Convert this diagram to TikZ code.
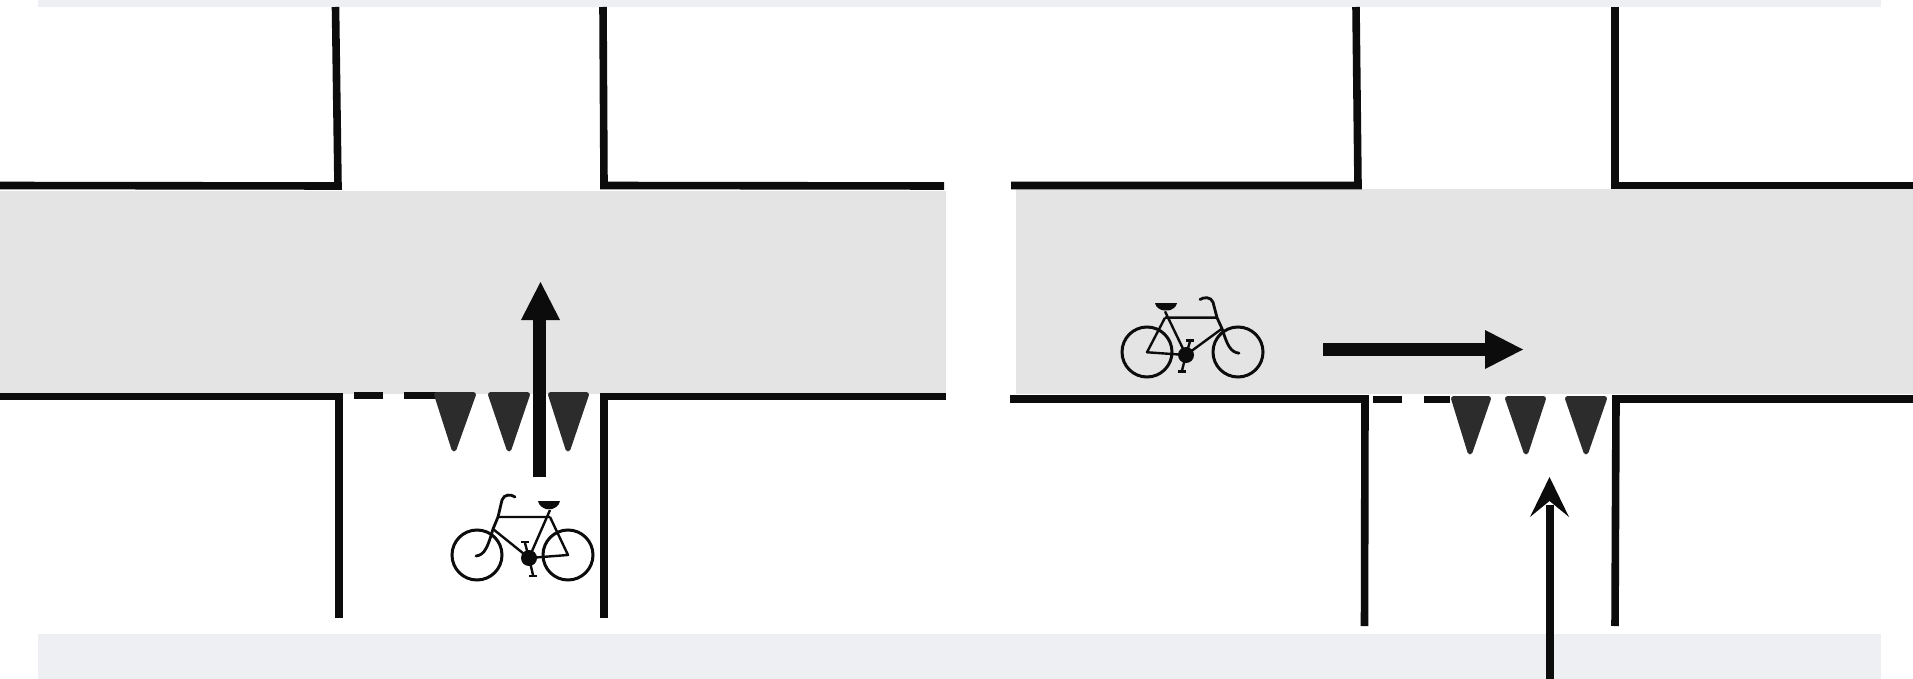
\documentclass[tikz,border=0pt]{standalone}
\usetikzlibrary{arrows.meta}
\definecolor{road}{HTML}{E4E4E4}
\definecolor{band}{HTML}{EEEFF3}
\definecolor{yieldtri}{HTML}{2C2C2C}
\definecolor{ink}{HTML}{0C0C0C}
\tikzset{
  kerb/.style={draw=ink,line width=7.6pt,line cap=butt,line join=miter},
  stopdash/.style={draw=ink,line width=7pt},
  sharktooth/.style={fill=yieldtri,draw=yieldtri,line width=5pt,line join=round},
  boldarrow/.style={draw=ink,line width=13pt},
  boldhead/.style={fill=ink},
  thinarrow/.style={draw=ink,line width=8pt},
  bikewheels/.pic={
    \draw[ink,line width=3pt] (-52,-3) circle (25) (39,-3) circle (25);
    \fill[ink] (0,0) circle (8);
  },
  bikeframe/.pic={
    \draw[ink,line width=2.4pt,line join=round]
      (0,0) -- (21,-48) (-31,-41) -- (21,-41) (0,0) -- (-36,-29)
      (21,-41) -- (39,-3) -- (0,0);
    \draw[ink,line width=2.8pt,line cap=round]
      (-14,-61) .. controls (-18,-64) and (-25,-64) .. (-27,-58)
      -- (-31,-41) -- (-36,-29)
      .. controls (-41,-12) and (-44,-3) .. (-53,-2);
    \draw[ink,line width=2.4pt] (-4,-15) -- (0,0) -- (4,17);
    \draw[ink,line width=2.4pt] (-8,-16) -- (0,-16) (0,18) -- (8,18);
    \fill[ink] (9,-57) -- (31,-57) .. controls (30,-52) and (26,-50) .. (23,-49)
      -- (17,-49) .. controls (14,-50) and (10,-52) .. (9,-57) -- cycle;
  }
}
\begin{document}
\begin{tikzpicture}[x=1pt,y=-1pt]
\useasboundingbox (0,0) rectangle (1913,679);
\fill[white] (0,0) rectangle (1913,679);
% page bands
\fill[band] (38,0) rectangle (1881,7);
\fill[band] (38,634) rectangle (1881,679);
% roads
\fill[road] (0,191) rectangle (946,394);
\fill[road] (1016,189) rectangle (1913,394);

% left junction kerbs
\draw[kerb] (0,185.5) -- (338,186) -- (335.5,7);
\draw[kerb] (603,7) -- (604,185.5) -- (944,186);
\draw[kerb] (0,396.5) -- (339,396.5) -- (339,618);
\draw[kerb] (604,618) -- (604,396.5) -- (946,396.5);
\draw[stopdash] (354,395) -- (383,395);
\draw[stopdash] (404,395) -- (440,395);

% left sharks teeth
\path[sharktooth] (436.5,394.5) -- (473.5,394.5) -- (454,449) -- cycle;
\path[sharktooth] (490.5,394.5) -- (527.5,394.5) -- (509,449) -- cycle;
\path[sharktooth] (550.5,394.5) -- (586.5,394.5) -- (568,449) -- cycle;

% left arrow
\coordinate (lafoot) at (539,477);
\coordinate (laneck) at (539,320);
\coordinate (latip) at (540.5,282);
\draw[boldarrow] (lafoot) -- (laneck);
\fill[boldhead] (latip) -- (560,320) -- (521,320) -- cycle;
\pic at (529,558) {bikewheels};
\pic at (529,558) {bikeframe};

% right junction kerbs
\draw[kerb] (1011,185.5) -- (1358,185.5) -- (1356,7);
\draw[kerb] (1615,7) -- (1615,185.5) -- (1913,185.5);
\draw[kerb] (1010,399) -- (1365,399) -- (1364.5,626);
\draw[kerb] (1615,626) -- (1616,399) -- (1913,399);
\draw[stopdash] (1373,399) -- (1402,399);
\draw[stopdash] (1424,399) -- (1450,399);

% right sharks teeth
\path[sharktooth] (1453.5,398.5) -- (1488.5,398.5) -- (1470,452) -- cycle;
\path[sharktooth] (1507.5,398.5) -- (1543.5,398.5) -- (1526,452) -- cycle;
\path[sharktooth] (1567.5,398.5) -- (1604.5,398.5) -- (1586,452) -- cycle;

% right horizontal arrow
\coordinate (rafoot) at (1323,349.5);
\coordinate (raneck) at (1486,349.5);
\draw[boldarrow] (rafoot) -- (raneck);
\fill[boldhead] (1523,349.5) -- (1485,330) -- (1485,369) -- cycle;
\pic[xscale=-1] at (1186,355) {bikewheels};
\pic[xscale=-1,yscale=.91] at (1186,355) {bikeframe};

% right vertical arrow
\coordinate (vafoot) at (1549.5,679);
\coordinate (vaneck) at (1549.5,505);
\draw[thinarrow] (vafoot) -- (vaneck);
\fill[ink] (1549.5,477) -- (1569,517) -- (1549.5,501) -- (1530,517) -- cycle;
\end{tikzpicture}
\end{document}
